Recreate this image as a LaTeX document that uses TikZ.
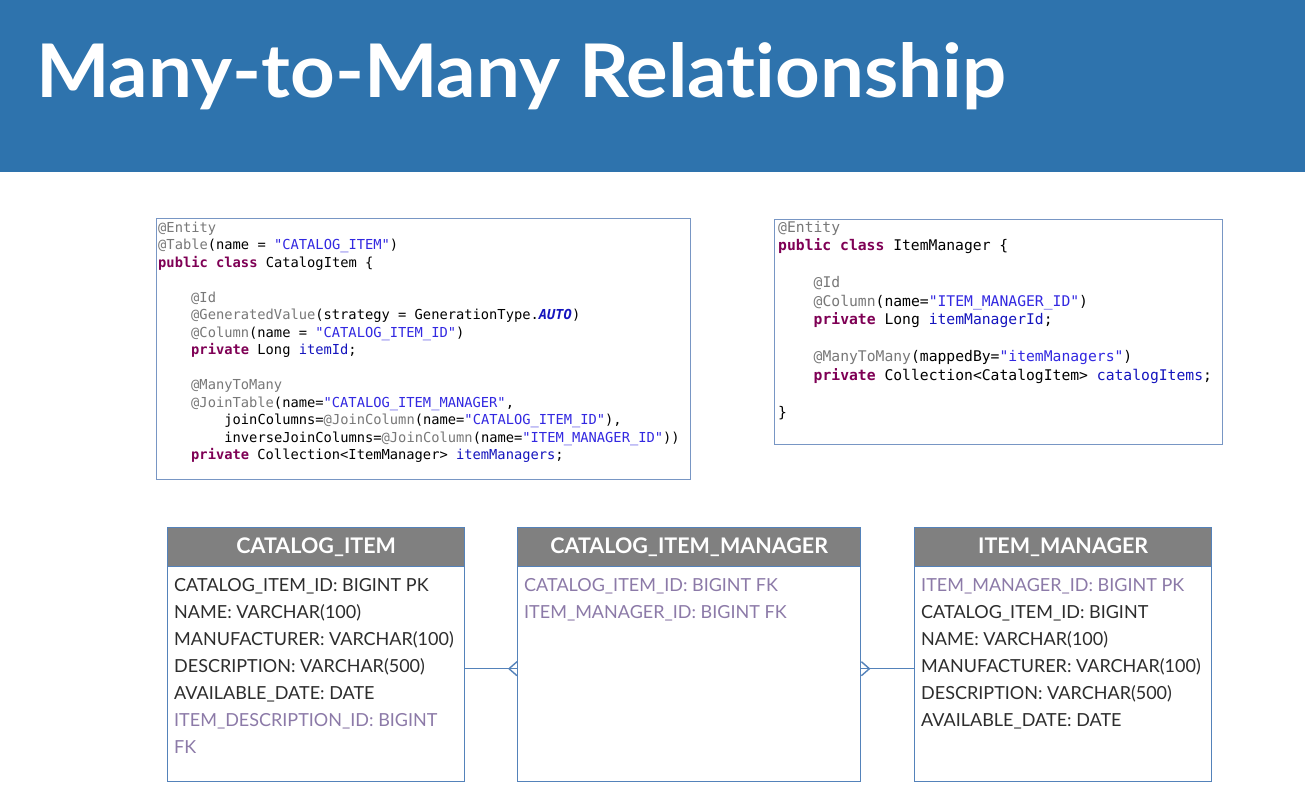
\documentclass[tikz,border=0pt]{standalone}
\usepackage{fontspec}
\newfontfamily\titlefont{Lato}[Ligatures=NoCommon]
\newfontfamily\tabfont{Lato}[Ligatures=NoCommon]
\newfontfamily\codefont{DejaVu Sans Mono}

\definecolor{bandblue}{RGB}{46,115,173}
\definecolor{headgrey}{RGB}{128,128,128}
\definecolor{tabedge}{RGB}{84,130,186}
\definecolor{codeedge}{RGB}{120,150,196}
\definecolor{rowtext}{RGB}{45,45,45}
\definecolor{keytext}{RGB}{140,122,168}
\definecolor{anncol}{RGB}{120,120,120}
\definecolor{kwcol}{RGB}{127,0,85}
\definecolor{strcol}{RGB}{50,40,225}
\definecolor{fldcol}{RGB}{20,20,190}

% Java syntax colouring helpers
\newcommand\jann[1]{\textcolor{anncol}{#1}}
\newcommand\jkw[1]{\textcolor{kwcol}{\bfseries #1}}
\newcommand\jstr[1]{\textcolor{strcol}{#1}}
\newcommand\jfld[1]{\textcolor{fldcol}{#1}}

\tikzset{
  band/.style={fill=bandblue, draw=none, inner sep=0, anchor=north west},
  codebox/.style={draw=codeedge, line width=1.1pt, fill=white, inner sep=0, anchor=north west},
  codeA/.style={anchor=base west, inner sep=0, text=black, font=\codefont\fontsize{13.75}{16}\selectfont},
  codeB/.style={anchor=base west, inner sep=0, text=black, font=\codefont\fontsize{14.7}{16}\selectfont},
  tabhead/.style={draw=tabedge, line width=1.4pt, fill=headgrey, text=white, inner sep=0,
    anchor=north west, minimum height=39, font=\tabfont\bfseries\fontsize{21.5}{24}\selectfont},
  tabbody/.style={draw=tabedge, line width=1.4pt, fill=white, inner sep=0, anchor=north west,
    minimum height=215},
  row/.style={anchor=base west, inner sep=0, text=rowtext, font=\tabfont\fontsize{18}{20}\selectfont},
  keyrow/.style={row, text=keytext},
  conn/.style={draw=tabedge, line width=1.4pt},
}

\begin{document}
\begin{tikzpicture}[x=1pt, y=-1pt]
\useasboundingbox (0,0) rectangle (1305,801);
\fill[white] (0,0) rectangle (1305,801);

% title band
\node[band, minimum width=1305, minimum height=172] (band) at (0,0) {};
\node[anchor=base west, inner sep=0, text=white,
      font=\titlefont\bfseries\fontsize{74}{80}\selectfont] (title) at (36,97)
      {\scalebox{1.053}[1]{Many-to-Many Relationship}};

% CatalogItem entity source
\node[codebox, minimum width=534, minimum height=261] (codeA) at (156,218) {};
\node[codeA] (a0)  at (158,232)      {\jann{@Entity}};
\node[codeA] (a1)  at (158,249.5)    {\jann{@Table}(name = \jstr{"CATALOG\_ITEM"})};
\node[codeA] (a2)  at (158,267)      {\jkw{public class} CatalogItem \{};
\node[codeA] (a4)  at (191,302)      {\jann{@Id}};
\node[codeA] (a5)  at (191,319.5)    {\jann{@GeneratedValue}(strategy = GenerationType.\textcolor{fldcol}{\bfseries\itshape AUTO})};
\node[codeA] (a6)  at (191,337)      {\jann{@Column}(name = \jstr{"CATALOG\_ITEM\_ID"})};
\node[codeA] (a7)  at (191,354.5)    {\jkw{private} Long \jfld{itemId};};
\node[codeA] (a9)  at (191,389.5)    {\jann{@ManyToMany}};
\node[codeA] (a10) at (191,407)      {\jann{@JoinTable}(name=\jstr{"CATALOG\_ITEM\_MANAGER"},};
\node[codeA] (a11) at (224.2,424.5)  {joinColumns=\jann{@JoinColumn}(name=\jstr{"CATALOG\_ITEM\_ID"}),};
\node[codeA] (a12) at (224.2,442)    {inverseJoinColumns=\jann{@JoinColumn}(name=\jstr{"ITEM\_MANAGER\_ID"}))};
\node[codeA] (a13) at (191,459.5)    {\jkw{private} Collection<ItemManager> \jfld{itemManagers};};

% ItemManager entity source
\node[codebox, minimum width=448, minimum height=225] (codeB) at (774,219) {};
\node[codeB] (b0)  at (778,232)    {\jann{@Entity}};
\node[codeB] (b1)  at (778,250.5)  {\jkw{public class} ItemManager \{};
\node[codeB] (b3)  at (813.5,287.5){\jann{@Id}};
\node[codeB] (b4)  at (813.5,306)  {\jann{@Column}(name=\jstr{"ITEM\_MANAGER\_ID"})};
\node[codeB] (b5)  at (813.5,324.5){\jkw{private} Long \jfld{itemManagerId};};
\node[codeB] (b7)  at (813.5,361.5){\jann{@ManyToMany}(mappedBy=\jstr{"itemManagers"})};
\node[codeB] (b8)  at (813.5,380)  {\jkw{private} Collection<CatalogItem> \jfld{catalogItems};};
\node[codeB] (b10) at (778,417)    {\}};

% CATALOG_ITEM table
\node[tabbody, minimum width=297] (ci) at (167,566) {};
\node[tabhead, minimum width=297] (cih) at (167,527) {CATALOG\_ITEM};
\node[row]    (ci1) at (174,591) {CATALOG\_ITEM\_ID: BIGINT PK};
\node[row]    (ci2) at (174,618) {NAME: VARCHAR(100)};
\node[row]    (ci3) at (174,645) {MANUFACTURER: VARCHAR(100)};
\node[row]    (ci4) at (174,672) {DESCRIPTION: VARCHAR(500)};
\node[row]    (ci5) at (174,699) {AVAILABLE\_DATE: DATE};
\node[keyrow] (ci6) at (174,726) {ITEM\_DESCRIPTION\_ID: BIGINT};
\node[keyrow] (ci7) at (174,753) {FK};

% CATALOG_ITEM_MANAGER join table
\node[tabbody, minimum width=343] (cim) at (517,566) {};
\node[tabhead, minimum width=343] (cimh) at (517,527) {CATALOG\_ITEM\_MANAGER};
\node[keyrow] (cim1) at (524,591) {CATALOG\_ITEM\_ID: BIGINT FK};
\node[keyrow] (cim2) at (524,618) {ITEM\_MANAGER\_ID: BIGINT FK};

% ITEM_MANAGER table
\node[tabbody, minimum width=297] (im) at (914,566) {};
\node[tabhead, minimum width=297] (imh) at (914,527) {ITEM\_MANAGER};
\node[keyrow] (im1) at (921,591) {ITEM\_MANAGER\_ID: BIGINT PK};
\node[row]    (im2) at (921,618) {CATALOG\_ITEM\_ID: BIGINT};
\node[row]    (im3) at (921,645) {NAME: VARCHAR(100)};
\node[row]    (im4) at (921,672) {MANUFACTURER: VARCHAR(100)};
\node[row]    (im5) at (921,699) {DESCRIPTION: VARCHAR(500)};
\node[row]    (im6) at (921,726) {AVAILABLE\_DATE: DATE};

% one-to-many links with crow's feet on the join table
\draw[conn] ([yshift=5.5pt]ci.east) -- ([yshift=5.5pt]cim.west);
\draw[conn] ([yshift=12.5pt]cim.west) -- ([xshift=-8pt,yshift=5.5pt]cim.west) -- ([yshift=-1.5pt]cim.west);
\draw[conn] ([yshift=5.5pt]im.west) -- ([yshift=5.5pt]cim.east);
\draw[conn] ([yshift=12.5pt]cim.east) -- ([xshift=8pt,yshift=5.5pt]cim.east) -- ([yshift=-1.5pt]cim.east);
\end{tikzpicture}
\end{document}
